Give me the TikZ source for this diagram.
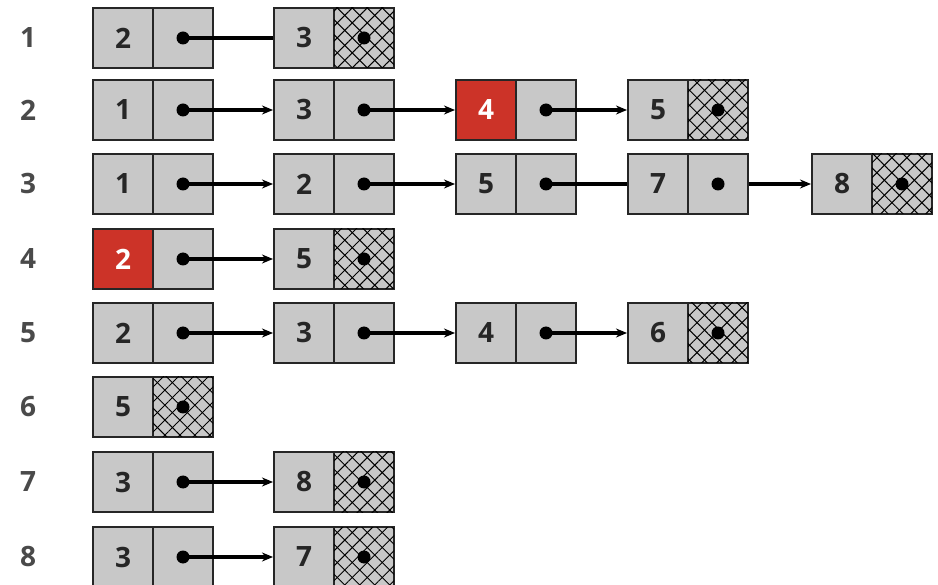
\documentclass[tikz,border=0pt]{standalone}
\usepackage{fontspec}
\setmainfont{Open Sans}
\usetikzlibrary{patterns.meta,arrows.meta}
\definecolor{boxgray}{HTML}{C8C8C8}
\definecolor{nodered}{HTML}{CC3328}
\definecolor{labelgray}{HTML}{4A4A4A}
\tikzset{
  cell/.style={draw=black!85, line width=2pt, fill=boxgray, minimum width=60pt,
    minimum height=60pt, inner sep=0pt, text=black!85, font=\bfseries\fontsize{28}{28}\selectfont},
  redcell/.style={cell, fill=nodered, text=white},
  nilcell/.style={cell,
    postaction={pattern={Lines[angle=45,distance=10.6pt,line width=1pt]}},
    postaction={pattern={Lines[angle=-45,distance=10.6pt,line width=1pt]}}},
  rowlabel/.style={text=labelgray, font=\bfseries\fontsize{28}{28}\selectfont, inner sep=0pt},
  link/.style={line width=3.2pt, -{Stealth[length=11pt,width=9pt]}},
  plainlink/.style={line width=3.2pt},
}
\newcommand\llbox[6]{%
  \node[#5] (#1v) at (#2+30,#3) {#4};
  \node[#6] (#1p) at (#2+90,#3) {};
  \fill (#1p.center) circle (6.5pt);
}
\begin{document}
\begin{tikzpicture}[x=1pt,y=-1pt]
\useasboundingbox (0,0) rectangle (938,585);
% row labels
\node[rowlabel] (l1) at (28,38) {1};
\node[rowlabel] (l2) at (28,110) {2};
\node[rowlabel] (l3) at (28,184) {3};
\node[rowlabel] (l4) at (28,259) {4};
\node[rowlabel] (l5) at (28,333) {5};
\node[rowlabel] (l6) at (28,407) {6};
\node[rowlabel] (l7) at (28,482) {7};
\node[rowlabel] (l8) at (28,557) {8};
% row 1
\llbox{a1}{93}{38}{2}{cell}{cell}
\llbox{a2}{274}{38}{3}{cell}{nilcell}
\draw[plainlink] (a1p.center) -- (a2v.west);
% row 2
\llbox{b1}{93}{110}{1}{cell}{cell}
\llbox{b2}{274}{110}{3}{cell}{cell}
\llbox{b3}{456}{110}{4}{redcell}{cell}
\llbox{b4}{628}{110}{5}{cell}{nilcell}
\draw[link] (b1p.center) -- (b2v.west);
\draw[link] (b2p.center) -- (b3v.west);
\draw[link] (b3p.center) -- (b4v.west);
% row 3
\llbox{c1}{93}{184}{1}{cell}{cell}
\llbox{c2}{274}{184}{2}{cell}{cell}
\llbox{c3}{456}{184}{5}{cell}{cell}
\llbox{c4}{628}{184}{7}{cell}{cell}
\llbox{c5}{812}{184}{8}{cell}{nilcell}
\draw[link] (c1p.center) -- (c2v.west);
\draw[link] (c2p.center) -- (c3v.west);
\draw[plainlink] (c3p.center) -- (c4v.west);
\draw[link] (c4p.east) -- (c5v.west);
% row 4
\llbox{d1}{93}{259}{2}{redcell}{cell}
\llbox{d2}{274}{259}{5}{cell}{nilcell}
\draw[link] (d1p.center) -- (d2v.west);
% row 5
\llbox{e1}{93}{333}{2}{cell}{cell}
\llbox{e2}{274}{333}{3}{cell}{cell}
\llbox{e3}{456}{333}{4}{cell}{cell}
\llbox{e4}{628}{333}{6}{cell}{nilcell}
\draw[link] (e1p.center) -- (e2v.west);
\draw[link] (e2p.center) -- (e3v.west);
\draw[link] (e3p.center) -- (e4v.west);
% row 6
\llbox{f1}{93}{407}{5}{cell}{nilcell}
% row 7
\llbox{g1}{93}{482}{3}{cell}{cell}
\llbox{g2}{274}{482}{8}{cell}{nilcell}
\draw[link] (g1p.center) -- (g2v.west);
% row 8
\llbox{h1}{93}{557}{3}{cell}{cell}
\llbox{h2}{274}{557}{7}{cell}{nilcell}
\draw[link] (h1p.center) -- (h2v.west);
\end{tikzpicture}
\end{document}
